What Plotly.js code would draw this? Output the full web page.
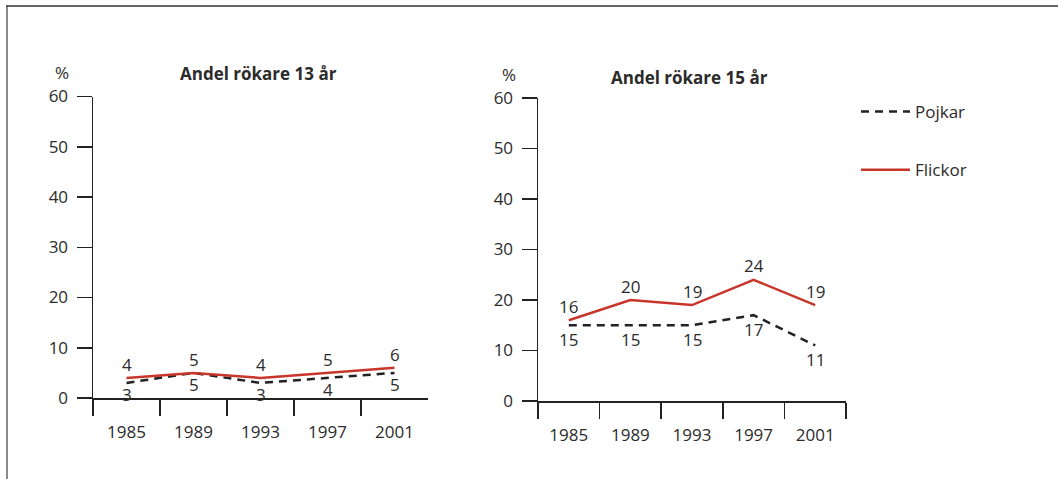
<!DOCTYPE html>
<html>
<head>
<meta charset="utf-8">
<script src="https://cdn.plot.ly/plotly-3.0.1.min.js"></script>
<style>
  html, body { margin: 0; padding: 0; background: #fff; }
  #chart { width: 1058px; height: 479px; }
</style>
</head>
<body>
<div id="chart"></div>
<script>
// ---- data ----
const years = ['1985', '1989', '1993', '1997', '2001'];
const pojkar13 = [3, 5, 3, 4, 5];
const flickor13 = [4, 5, 4, 5, 6];
const pojkar15 = [15, 15, 15, 17, 11];
const flickor15 = [16, 20, 19, 24, 19];
const seriesNames = ['Pojkar', 'Flickor'];
const titles = ['Andel rökare 13 år', 'Andel rökare 15 år'];
const yTicks = [0, 10, 20, 30, 40, 50, 60];

const W = 1058, H = 479;
const px = v => v / W;
const py = v => 1 - v / H;

const FONT = '"Open Sans", "Noto Sans", sans-serif';
const TXT = '#2b2b2b';
const RED = '#c8352b';
const BLACK = '#222';

function pojkTrace(y, xa, ya, show) {
  return {
    x: years, y: y, xaxis: xa, yaxis: ya, type: 'scatter', mode: 'lines',
    name: seriesNames[0], legendgroup: 'p', showlegend: show,
    line: { color: BLACK, width: 2.5, dash: '8px,6px' }, hoverinfo: 'x+y'
  };
}
function flickTrace(y, xa, ya, show) {
  return {
    x: years, y: y, xaxis: xa, yaxis: ya, type: 'scatter', mode: 'lines',
    name: seriesNames[1], legendgroup: 'f', showlegend: show,
    line: { color: RED, width: 2.5 }, hoverinfo: 'x+y'
  };
}

const data = [
  pojkTrace(pojkar13, 'x', 'y', false),
  flickTrace(flickor13, 'x', 'y', false),
  pojkTrace(pojkar15, 'x2', 'y2', true),
  flickTrace(flickor15, 'x2', 'y2', true)
];

// value labels: placed at the data points via the axes (category index), shifted above/below
function labels(vals, xa, ya, shift) {
  return vals.map((v, i) => ({
    x: years.indexOf(years[i]), y: v, xref: xa, yref: ya, text: String(v), showarrow: false,
    xanchor: 'center', yanchor: 'middle', yshift: shift,
    font: { family: FONT, size: 17, color: TXT }
  }));
}

function xAxis(domain, anchor) {
  return {
    domain: domain, anchor: anchor, type: 'category', range: [-0.5, 4.5],
    tickson: 'boundaries', ticks: 'outside', ticklen: 16, tickwidth: 1.5, tickcolor: BLACK,
    showline: true, linecolor: BLACK, linewidth: 1.5, showgrid: false, zeroline: false,
    tickfont: { family: FONT, size: 17, color: TXT }, ticklabelstandoff: 18, fixedrange: true
  };
}
function yAxis(domain, anchor) {
  return {
    domain: domain, anchor: anchor, range: [0, 60], tickvals: yTicks,
    ticks: 'outside', ticklen: 15, tickwidth: 1.5, tickcolor: BLACK,
    showline: true, linecolor: BLACK, linewidth: 1.5, showgrid: false, zeroline: false,
    tickfont: { family: FONT, size: 17, color: TXT }, ticklabelstandoff: 5, fixedrange: true
  };
}

function paperText(text, x, y, size) {
  return { text: text, x: px(x), y: py(y), xref: 'paper', yref: 'paper', showarrow: false,
    xanchor: 'center', yanchor: 'middle', font: { family: FONT, size: size, color: TXT } };
}

const annotations = [
  paperText('%', 62, 72, 17),
  paperText('<b>' + titles[0] + '</b>', 258, 73, 17),
  paperText('%', 509, 74, 17),
  paperText('<b>' + titles[1] + '</b>', 689, 77, 17)
].concat(
  labels(flickor13, 'x', 'y', 13),
  labels(pojkar13, 'x', 'y', -12),
  labels(flickor15, 'x2', 'y2', 14),
  labels(pojkar15, 'x2', 'y2', -14)
);

const layout = {
  width: W, height: H,
  margin: { l: 0, r: 0, t: 0, b: 0 },
  paper_bgcolor: '#fff', plot_bgcolor: '#fff',
  font: { family: FONT, color: TXT },
  xaxis: xAxis([px(93), px(428)], 'y'),
  yaxis: yAxis([py(398), py(96.5)], 'x'),
  xaxis2: xAxis([px(538), px(846)], 'y2'),
  yaxis2: yAxis([py(401), py(98)], 'x2'),
  showlegend: true,
  legend: {
    x: px(856), y: py(94), xanchor: 'left', yanchor: 'top',
    traceorder: 'grouped', tracegroupgap: 33, itemwidth: 49,
    font: { family: FONT, size: 17, color: TXT }, bgcolor: 'rgba(0,0,0,0)'
  },
  annotations: annotations,
  shapes: [
    { type: 'line', xref: 'paper', yref: 'paper', x0: px(7), x1: px(7), y0: 0, y1: py(6),
      line: { color: '#8a8a8a', width: 2 } },
    { type: 'line', xref: 'paper', yref: 'paper', x0: px(6), x1: 1, y0: py(6), y1: py(6),
      line: { color: '#333', width: 1.5 } }
  ]
};

Plotly.newPlot('chart', data, layout, { displayModeBar: false, staticPlot: true });
</script>
</body>
</html>
